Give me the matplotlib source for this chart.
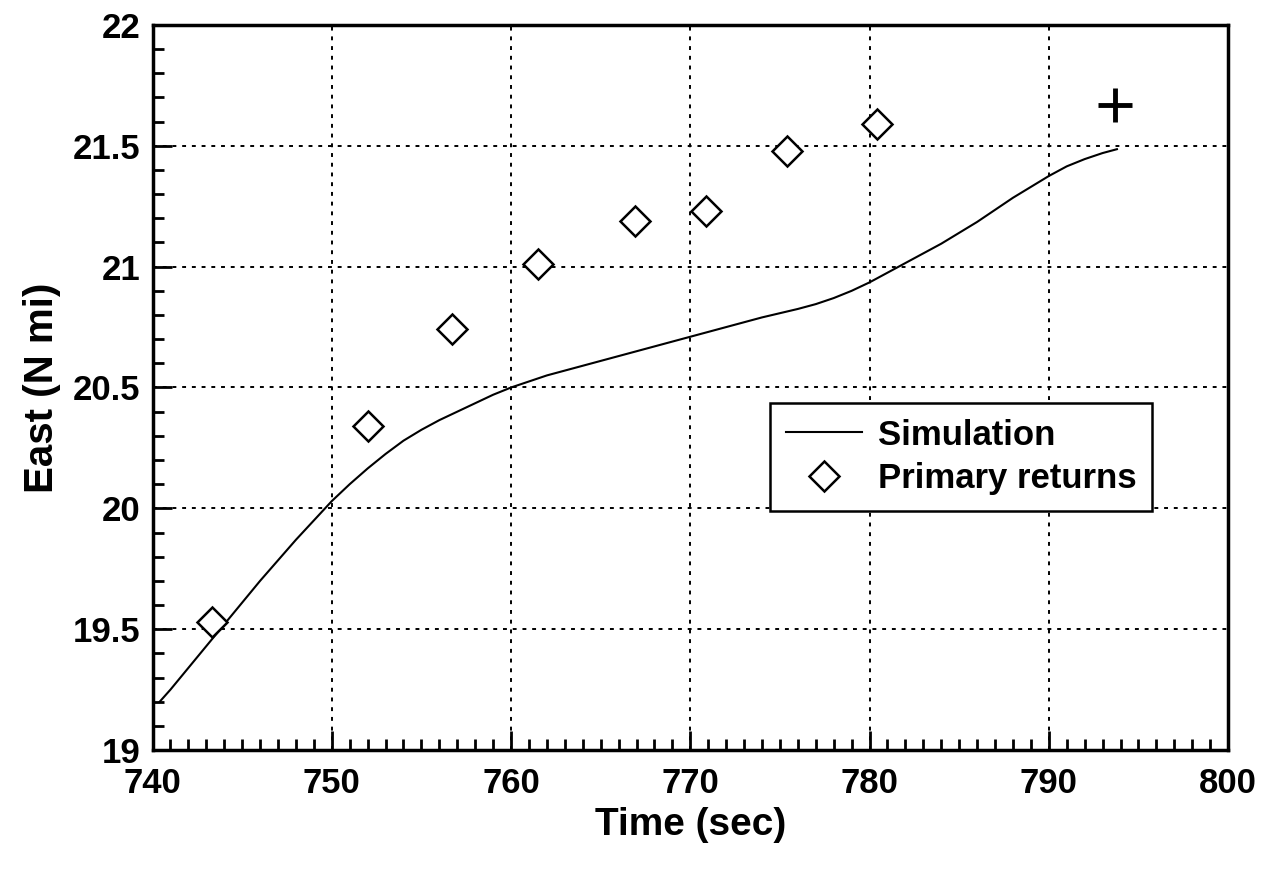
import matplotlib
matplotlib.use("Agg")
import matplotlib.pyplot as plt
from matplotlib.ticker import MultipleLocator

# Simulation trace
sim_time = [740.4, 741.0, 742.0, 743.0, 744.0, 745.0, 746.0, 747.0, 748.0, 749.0,
            750.0, 751.0, 752.0, 753.0, 754.0, 755.0, 756.0, 757.0, 758.0,
            759.0, 760.0, 761.0, 762.0, 763.0, 764.0, 765.0, 766.0, 768.0, 770.0,
            772.0, 774.0, 776.0, 777.0, 778.0, 779.0, 780.0, 781.0, 782.0, 783.0,
            784.0, 785.0, 786.0, 787.0, 788.0, 789.0, 790.0, 791.0, 792.0, 793.0,
            793.8]
sim_east = [19.20, 19.25, 19.34, 19.43, 19.52, 19.61, 19.70, 19.785, 19.87, 19.95,
            20.03, 20.10, 20.165, 20.225, 20.28, 20.325, 20.365, 20.40, 20.435,
            20.47, 20.50, 20.525, 20.55, 20.57, 20.59, 20.61, 20.63, 20.67, 20.71,
            20.75, 20.79, 20.825, 20.845, 20.87, 20.90, 20.935, 20.975, 21.015, 21.055,
            21.095, 21.14, 21.185, 21.235, 21.285, 21.33, 21.375, 21.415, 21.445, 21.47,
            21.486]

# Primary returns
ret_time = [743.3, 752.0, 756.7, 761.5, 766.9, 770.9, 775.4, 780.4]
ret_east = [19.53, 20.34, 20.74, 21.01, 21.19, 21.23, 21.48, 21.59]

# Extra hand mark
plus_time = [793.7]
plus_east = [21.67]

x_ticks = [740, 750, 760, 770, 780, 790, 800]
y_ticks = [19, 19.5, 20, 20.5, 21, 21.5, 22]
y_tick_labels = ["19", "19.5", "20", "20.5", "21", "21.5", "22"]

plt.rcParams['font.family'] = ['Liberation Sans', 'DejaVu Sans']
plt.rcParams['font.weight'] = 'bold'

fig = plt.figure(figsize=(12.68, 8.76), dpi=100)
ax = fig.add_axes([0.1203, 0.1438, 0.9685 - 0.1203, 0.9715 - 0.1438])

ax.plot(sim_time, sim_east, color='black', lw=1.5, label='Simulation', zorder=3)
ax.plot(ret_time, ret_east, linestyle='none', marker='D', ms=15, mfc='white',
        mec='black', mew=1.8, label='Primary returns', zorder=4)
ax.plot(plus_time, plus_east, linestyle='none', marker='+', ms=25, mew=3.5,
        color='black', zorder=4)

ax.set_xlim(740, 800)
ax.set_ylim(19, 22)
ax.set_xticks(x_ticks)
ax.set_xticklabels([str(t) for t in x_ticks])
ax.set_yticks(y_ticks)
ax.set_yticklabels(y_tick_labels)
ax.xaxis.set_minor_locator(MultipleLocator(1))
ax.yaxis.set_minor_locator(MultipleLocator(0.1))

ax.tick_params(which='both', direction='in', top=False, right=False,
               labelsize=25, width=2, color='black')
ax.tick_params(which='major', length=14)
ax.tick_params(which='minor', length=8)
ax.tick_params(axis='x', which='major', pad=12)
ax.tick_params(axis='y', which='major', pad=9)
for lab in ax.get_xticklabels() + ax.get_yticklabels():
    lab.set_fontweight('bold')

ax.grid(True, which='major', linestyle=(0, (2, 3)), color='black', lw=1.4)

for sp in ax.spines.values():
    sp.set_linewidth(2.5)
    sp.set_color('black')

ax.set_xlabel('Time (sec)', fontsize=28, fontweight='bold', labelpad=5)
ax.set_ylabel('East (N mi)', fontsize=29, fontweight='bold', labelpad=8)

leg = ax.legend(loc='upper left', bbox_to_anchor=(0.5745, 0.4786), fontsize=25,
                frameon=True, fancybox=False, edgecolor='black', framealpha=1,
                handlelength=2.2, borderpad=0.45, labelspacing=0.3,
                handletextpad=0.45, borderaxespad=0)
leg.get_frame().set_linewidth(1.8)
for t in leg.get_texts():
    t.set_fontweight('bold')

fig.savefig('out.png', dpi=100)
